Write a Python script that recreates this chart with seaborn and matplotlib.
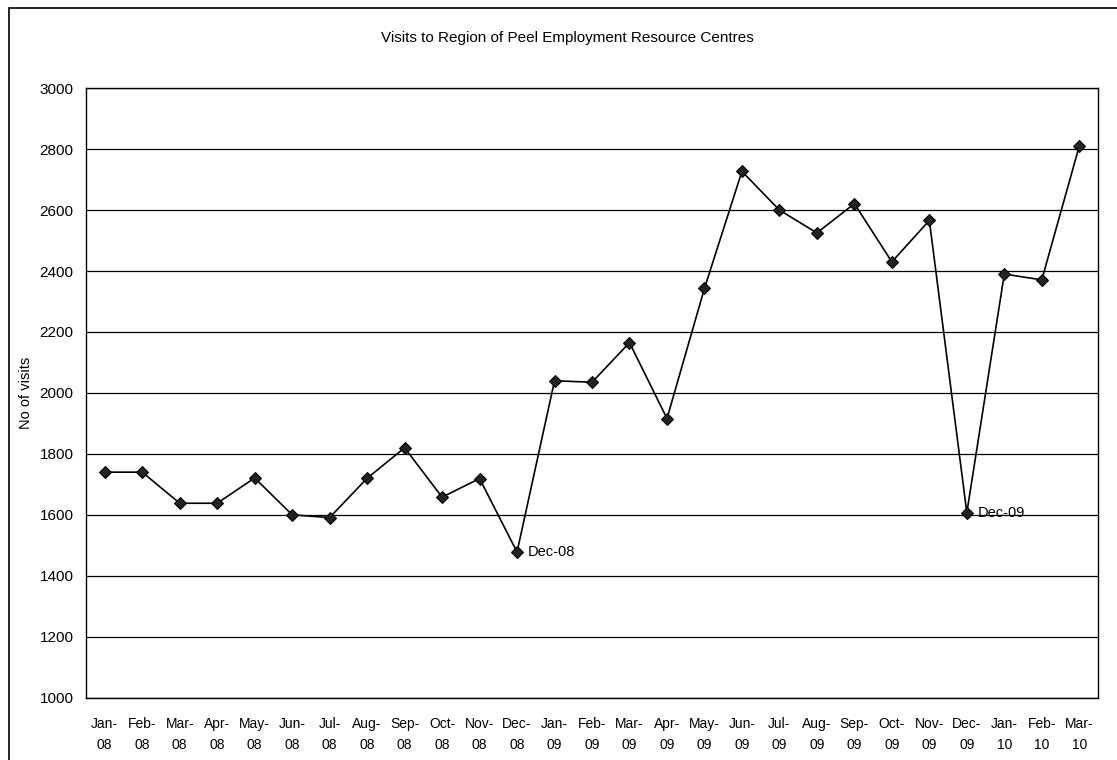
import numpy as np
import pandas as pd
import seaborn as sns
import matplotlib.pyplot as plt
from matplotlib.patches import Rectangle

# Monthly visits, Jan-08 to Mar-10
months = ["Jan-\n08", "Feb-\n08", "Mar-\n08", "Apr-\n08", "May-\n08", "Jun-\n08",
          "Jul-\n08", "Aug-\n08", "Sep-\n08", "Oct-\n08", "Nov-\n08", "Dec-\n08",
          "Jan-\n09", "Feb-\n09", "Mar-\n09", "Apr-\n09", "May-\n09", "Jun-\n09",
          "Jul-\n09", "Aug-\n09", "Sep-\n09", "Oct-\n09", "Nov-\n09", "Dec-\n09",
          "Jan-\n10", "Feb-\n10", "Mar-\n10"]
visits = [1740, 1740, 1638, 1638, 1721, 1600, 1591, 1720, 1820, 1658, 1719, 1478,
          2040, 2035, 2165, 1916, 2343, 2727, 2600, 2525, 2621, 2430, 2566, 1607,
          2390, 2371, 2810]
callouts = {11: "Dec-08", 23: "Dec-09"}

df = pd.DataFrame({"idx": np.arange(len(months)), "visits": visits})

sns.set_style("white", {"text.color": "black", "axes.labelcolor": "black",
                        "xtick.color": "black", "ytick.color": "black"})
plt.rcParams["font.family"] = ["Liberation Sans", "DejaVu Sans"]

fig = plt.figure(figsize=(11.17, 7.6), dpi=100)
ax = fig.add_axes([0.077, 0.082, 0.906, 0.802])

sns.lineplot(data=df, x="idx", y="visits", ax=ax, color="black", linewidth=1.2,
             marker="D", markersize=6, markeredgecolor="black", markerfacecolor="#222222")

for i, txt in callouts.items():
    ax.annotate(txt, (i, visits[i]), xytext=(8, 0), textcoords="offset points",
                va="center", ha="left", fontsize=10.5)

ax.set_xlim(-0.5, len(months) - 0.5)
ax.set_ylim(1000, 3000)
ax.set_yticks(np.arange(1000, 3001, 200))
ax.set_xticks(np.arange(len(months)))
ax.set_xticklabels(months, fontsize=10, linespacing=1.6)
ax.set_xticks(np.arange(len(months) + 1) - 0.5, minor=True)
ax.tick_params(axis="x", which="major", length=0, pad=14)
ax.tick_params(axis="x", which="minor", length=4, width=1, color="black", direction="out")
ax.tick_params(axis="y", length=4, width=1, color="black", direction="out",
               labelsize=11, pad=5)
ax.grid(axis="y", color="black", linewidth=0.9)
for s in ax.spines.values():
    s.set_color("black")
    s.set_linewidth(1)

ax.set_xlabel("")
ax.set_ylabel("No of visits", fontsize=10.5, labelpad=5)
fig.text(0.508, 0.95, "Visits to Region of Peel Employment Resource Centres",
         ha="center", va="center", fontsize=11)

# outer chart frame
fig.patches.append(Rectangle((0.008, -0.05), 1.1, 1.04, transform=fig.transFigure,
                             fill=False, edgecolor="black", linewidth=1.2))

fig.savefig("out.png", dpi=100)
